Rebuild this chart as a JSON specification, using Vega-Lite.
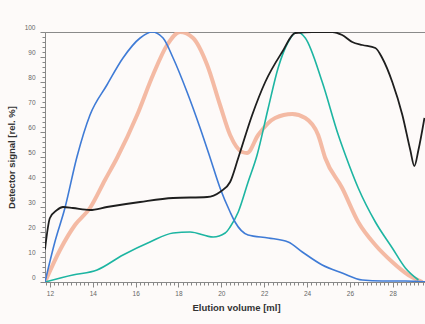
{
  "$schema": "https://vega.github.io/schema/vega-lite/v6.json",
  "autosize": {"type": "none"},
  "width": 382,
  "height": 250,
  "padding": {"left": 45, "top": 32, "right": 0, "bottom": 42},
  "background": "#fdfaf9",
  "config": {
    "view": {"stroke": "#8a8a8a", "strokeWidth": 1},
    "font": "Liberation Sans"
  },
  "datasets": {
    "curves": [
      {"series": "Blue", "x": 11.77, "y": 0},
      {"series": "Blue", "x": 12.23, "y": 16},
      {"series": "Blue", "x": 12.70, "y": 29.6},
      {"series": "Blue", "x": 13.26, "y": 50},
      {"series": "Blue", "x": 13.87, "y": 66.8},
      {"series": "Blue", "x": 14.66, "y": 78.8},
      {"series": "Blue", "x": 15.41, "y": 89.6},
      {"series": "Blue", "x": 16.21, "y": 97.6},
      {"series": "Blue", "x": 16.77, "y": 100},
      {"series": "Blue", "x": 17.28, "y": 97.6},
      {"series": "Blue", "x": 17.75, "y": 89.6},
      {"series": "Blue", "x": 18.40, "y": 76},
      {"series": "Blue", "x": 19.01, "y": 61.6},
      {"series": "Blue", "x": 19.48, "y": 49.6},
      {"series": "Blue", "x": 19.94, "y": 37.6},
      {"series": "Blue", "x": 20.41, "y": 28},
      {"series": "Blue", "x": 20.64, "y": 24},
      {"series": "Blue", "x": 21.25, "y": 18.8},
      {"series": "Blue", "x": 22.19, "y": 17.6},
      {"series": "Blue", "x": 23.12, "y": 16},
      {"series": "Blue", "x": 23.78, "y": 12},
      {"series": "Blue", "x": 24.71, "y": 6.8},
      {"series": "Blue", "x": 25.64, "y": 3.6},
      {"series": "Blue", "x": 26.58, "y": 0.8},
      {"series": "Blue", "x": 27.51, "y": 0.4},
      {"series": "Blue", "x": 28.59, "y": 0.4},
      {"series": "Blue", "x": 29.6, "y": 0},

      {"series": "Orange", "x": 11.77, "y": 0},
      {"series": "Orange", "x": 12.47, "y": 12.8},
      {"series": "Orange", "x": 13.17, "y": 22.8},
      {"series": "Orange", "x": 13.87, "y": 29.6},
      {"series": "Orange", "x": 14.57, "y": 40.8},
      {"series": "Orange", "x": 15.13, "y": 49.6},
      {"series": "Orange", "x": 16.07, "y": 66.8},
      {"series": "Orange", "x": 16.81, "y": 82.8},
      {"series": "Orange", "x": 17.47, "y": 94.8},
      {"series": "Orange", "x": 18.07, "y": 100},
      {"series": "Orange", "x": 18.68, "y": 97.6},
      {"series": "Orange", "x": 19.34, "y": 86.8},
      {"series": "Orange", "x": 19.94, "y": 70.8},
      {"series": "Orange", "x": 20.41, "y": 58.8},
      {"series": "Orange", "x": 20.97, "y": 52},
      {"series": "Orange", "x": 21.2, "y": 51.6},
      {"series": "Orange", "x": 21.72, "y": 58.8},
      {"series": "Orange", "x": 22.51, "y": 65.6},
      {"series": "Orange", "x": 23.31, "y": 67.2},
      {"series": "Orange", "x": 23.92, "y": 65.6},
      {"series": "Orange", "x": 24.52, "y": 58.8},
      {"series": "Orange", "x": 24.85, "y": 49.6},
      {"series": "Orange", "x": 25.64, "y": 37.6},
      {"series": "Orange", "x": 26.39, "y": 24},
      {"series": "Orange", "x": 27.19, "y": 14.8},
      {"series": "Orange", "x": 27.98, "y": 8},
      {"series": "Orange", "x": 28.73, "y": 2.8},
      {"series": "Orange", "x": 29.38, "y": 0},

      {"series": "Black", "x": 11.77, "y": 13},
      {"series": "Black", "x": 12.0, "y": 25.6},
      {"series": "Black", "x": 12.33, "y": 28.8},
      {"series": "Black", "x": 12.61, "y": 30},
      {"series": "Black", "x": 13.07, "y": 29.6},
      {"series": "Black", "x": 13.87, "y": 28.8},
      {"series": "Black", "x": 14.66, "y": 30},
      {"series": "Black", "x": 16.21, "y": 32},
      {"series": "Black", "x": 17.75, "y": 33.6},
      {"series": "Black", "x": 19.34, "y": 34},
      {"series": "Black", "x": 19.94, "y": 36},
      {"series": "Black", "x": 20.41, "y": 40},
      {"series": "Black", "x": 20.79, "y": 49.6},
      {"series": "Black", "x": 21.44, "y": 66.8},
      {"series": "Black", "x": 22.05, "y": 80},
      {"series": "Black", "x": 22.84, "y": 92},
      {"series": "Black", "x": 23.45, "y": 99.6},
      {"series": "Black", "x": 24.24, "y": 100},
      {"series": "Black", "x": 25.18, "y": 100},
      {"series": "Black", "x": 25.64, "y": 98.8},
      {"series": "Black", "x": 26.11, "y": 96},
      {"series": "Black", "x": 26.58, "y": 94.8},
      {"series": "Black", "x": 27.19, "y": 93.6},
      {"series": "Black", "x": 27.51, "y": 89.6},
      {"series": "Black", "x": 27.98, "y": 80},
      {"series": "Black", "x": 28.45, "y": 66.8},
      {"series": "Black", "x": 28.82, "y": 52.8},
      {"series": "Black", "x": 29.01, "y": 46.4},
      {"series": "Black", "x": 29.2, "y": 52.8},
      {"series": "Black", "x": 29.48, "y": 65.6},

      {"series": "Green", "x": 11.77, "y": 0},
      {"series": "Green", "x": 13.07, "y": 2.8},
      {"series": "Green", "x": 14.2, "y": 4.8},
      {"series": "Green", "x": 15.41, "y": 10.8},
      {"series": "Green", "x": 16.67, "y": 16},
      {"series": "Green", "x": 17.75, "y": 19.6},
      {"series": "Green", "x": 18.54, "y": 20},
      {"series": "Green", "x": 19.62, "y": 18},
      {"series": "Green", "x": 20.18, "y": 19.6},
      {"series": "Green", "x": 20.41, "y": 22},
      {"series": "Green", "x": 20.79, "y": 28},
      {"series": "Green", "x": 21.25, "y": 40},
      {"series": "Green", "x": 21.67, "y": 50.8},
      {"series": "Green", "x": 22.19, "y": 69.6},
      {"series": "Green", "x": 22.65, "y": 85.6},
      {"series": "Green", "x": 23.12, "y": 96},
      {"series": "Green", "x": 23.54, "y": 100},
      {"series": "Green", "x": 23.92, "y": 97.6},
      {"series": "Green", "x": 24.71, "y": 80},
      {"series": "Green", "x": 25.46, "y": 58.8},
      {"series": "Green", "x": 25.79, "y": 50.8},
      {"series": "Green", "x": 26.39, "y": 37.6},
      {"series": "Green", "x": 27.19, "y": 24},
      {"series": "Green", "x": 27.98, "y": 13.6},
      {"series": "Green", "x": 28.59, "y": 5.6},
      {"series": "Green", "x": 29.2, "y": 0.8}
    ]
  },
  "data": {"name": "curves"},
  "encoding": {
    "x": {
      "field": "x", "type": "quantitative",
      "scale": {"domain": [11.77, 29.6], "nice": false, "zero": false},
      "axis": {
        "title": "Elution volume [ml]",
        "titleFontSize": 9.5, "titleFontWeight": "bold", "titleColor": "#333", "titlePadding": 6,
        "values": [11.8,12,12.2,12.4,12.6,12.8,13,13.2,13.4,13.6,13.8,14,14.2,14.4,14.6,14.8,15,15.2,15.4,15.6,15.8,16,16.2,16.4,16.6,16.8,17,17.2,17.4,17.6,17.8,18,18.2,18.4,18.6,18.8,19,19.2,19.4,19.6,19.8,20,20.2,20.4,20.6,20.8,21,21.2,21.4,21.6,21.8,22,22.2,22.4,22.6,22.8,23,23.2,23.4,23.6,23.8,24,24.2,24.4,24.6,24.8,25,25.2,25.4,25.6,25.8,26,26.2,26.4,26.6,26.8,27,27.2,27.4,27.6,27.8,28,28.2,28.4,28.6,28.8,29,29.2,29.4],
        "labelExpr": "abs(datum.value - round(datum.value/2)*2) < 0.01 ? format(datum.value, 'd') : ''",
        "tickSize": {"condition": {"test": "abs(datum.value - round(datum.value/2)*2) < 0.01", "value": 5}, "value": 3},
        "tickColor": "#888", "domainColor": "#888",
        "labelFontSize": 6.5, "labelColor": "#666", "labelPadding": 3,
        "grid": false, "labelFlush": false, "labelOverlap": false
      }
    },
    "y": {
      "field": "y", "type": "quantitative",
      "scale": {"domain": [0, 100], "nice": false},
      "axis": {
        "title": "Detector signal [rel. %]",
        "titleFontSize": 9.5, "titleFontWeight": "bold", "titleColor": "#333", "titlePadding": 8,
        "values": [0,2,4,6,8,10,12,14,16,18,20,22,24,26,28,30,32,34,36,38,40,42,44,46,48,50,52,54,56,58,60,62,64,66,68,70,72,74,76,78,80,82,84,86,88,90,92,94,96,98,100],
        "labelExpr": "datum.value % 10 == 0 ? format(datum.value, 'd') : ''",
        "tickSize": {"condition": {"test": "datum.value % 10 == 0", "value": 5}, "value": 3},
        "tickColor": "#888", "domainColor": "#888",
        "labelFontSize": 6.5, "labelColor": "#666", "labelPadding": 5, "labelOffset": -5,
        "grid": false, "labelFlush": false, "labelOverlap": false
      }
    }
  },
  "layer": [
    {
      "transform": [{"filter": "datum.series == 'Orange'"}],
      "mark": {"type": "line", "interpolate": "monotone", "color": "#f3b39a", "strokeWidth": 4, "opacity": 0.9, "clip": true}
    },
    {
      "transform": [{"filter": "datum.series == 'Green'"}],
      "mark": {"type": "line", "interpolate": "monotone", "color": "#1db5a2", "strokeWidth": 1.6, "clip": true}
    },
    {
      "transform": [{"filter": "datum.series == 'Blue'"}],
      "mark": {"type": "line", "interpolate": "monotone", "color": "#3f7bd6", "strokeWidth": 1.6, "clip": true}
    },
    {
      "transform": [{"filter": "datum.series == 'Black'"}],
      "mark": {"type": "line", "interpolate": "monotone", "color": "#1e1e1e", "strokeWidth": 1.8, "clip": true}
    }
  ]
}
